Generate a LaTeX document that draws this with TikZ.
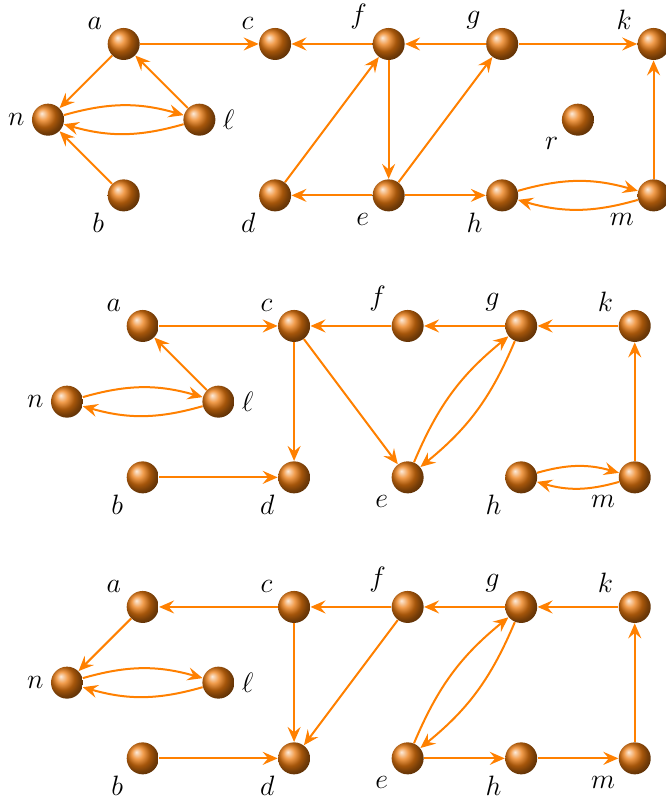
\RequirePackage{fix-cm}
\documentclass[tikz,border=0pt]{standalone}
\usepackage{tikz}
\usetikzlibrary{arrows.meta}
\definecolor{linkorange}{RGB}{255,128,0}
\definecolor{ballorange}{RGB}{235,122,15}
\tikzset{
    vertex/.style={circle, ball color=ballorange, minimum size=16pt, inner sep=0pt},
    link/.style={-{Stealth[length=7.5pt,width=6.5pt,inset=2.7pt]}, draw=linkorange, line width=1pt},
    every label/.style={font=\fontsize{14}{17}\selectfont},
    up/.style={label={[xshift=-1.5pt, yshift=-2pt]above left:$#1$}},
    down/.style={label={[xshift=-0.5pt, yshift=0.5pt]below left:$#1$}},
}

\begin{document}
\begin{tikzpicture}[x=1.33cm, y=-1.33cm]
    \useasboundingbox (-0.634,-0.581) rectangle (8.151,9.974);

    % First graph
    \node[vertex, up=a] (a1) at (1,0) {};
    \node[vertex, up=c] (c1) at (3,0) {};
    \node[vertex, up=f] (f1) at (4.5,0) {};
    \node[vertex, up=g] (g1) at (6,0) {};
    \node[vertex, up=k] (k1) at (8,0) {};
    \node[vertex, label=left:$n$] (n1) at (0,1) {};
    \node[vertex, label=right:$\ell$] (l1) at (2,1) {};
    \node[vertex, down=r] (r1) at (7,1) {};
    \node[vertex, down=b] (b1) at (1,2) {};
    \node[vertex, down=d] (d1) at (3,2) {};
    \node[vertex, down=e] (e1) at (4.5,2) {};
    \node[vertex, down=h] (h1) at (6,2) {};
    \node[vertex, down=m] (m1) at (8,2) {};

    \draw[link] (a1) -- (c1);
    \draw[link] (a1) -- (n1);
    \draw[link] (l1) -- (a1);
    \draw[link] (n1) to[bend left=16] (l1);
    \draw[link] (l1) to[bend left=16] (n1);
    \draw[link] (b1) -- (n1);
    \draw[link] (f1) -- (c1);
    \draw[link] (g1) -- (f1);
    \draw[link] (g1) -- (k1);
    \draw[link] (d1) -- (f1);
    \draw[link] (f1) -- (e1);
    \draw[link] (e1) -- (d1);
    \draw[link] (e1) -- (g1);
    \draw[link] (e1) -- (h1);
    \draw[link] (h1) to[bend left=16] (m1);
    \draw[link] (m1) to[bend left=16] (h1);
    \draw[link] (m1) -- (k1);

    % Second graph
    \begin{scope}[shift={(0.251,3.725)}]
        \node[vertex, up=a] (a2) at (1,0) {};
        \node[vertex, up=c] (c2) at (3,0) {};
        \node[vertex, up=f] (f2) at (4.5,0) {};
        \node[vertex, up=g] (g2) at (6,0) {};
        \node[vertex, up=k] (k2) at (7.5,0) {};
        \node[vertex, label=left:$n$] (n2) at (0,1) {};
        \node[vertex, label=right:$\ell$] (l2) at (2,1) {};
        \node[vertex, down=b] (b2) at (1,2) {};
        \node[vertex, down=d] (d2) at (3,2) {};
        \node[vertex, down=e] (e2) at (4.5,2) {};
        \node[vertex, down=h] (h2) at (6,2) {};
        \node[vertex, down=m] (m2) at (7.5,2) {};
    \end{scope}

    \draw[link] (a2) -- (c2);
    \draw[link] (l2) -- (a2);
    \draw[link] (n2) to[bend left=16] (l2);
    \draw[link] (l2) to[bend left=16] (n2);
    \draw[link] (b2) -- (d2);
    \draw[link] (c2) -- (d2);
    \draw[link] (c2) -- (e2);
    \draw[link] (f2) -- (c2);
    \draw[link] (g2) -- (f2);
    \draw[link] (k2) -- (g2);
    \draw[link] (e2) to[bend left=14] (g2);
    \draw[link] (g2) to[bend left=14] (e2);
    \draw[link] (h2) to[bend left=16] (m2);
    \draw[link] (m2) to[bend left=16] (h2);
    \draw[link] (m2) -- (k2);

    % Third graph
    \begin{scope}[shift={(0.251,7.437)}]
        \node[vertex, up=a] (a3) at (1,0) {};
        \node[vertex, up=c] (c3) at (3,0) {};
        \node[vertex, up=f] (f3) at (4.5,0) {};
        \node[vertex, up=g] (g3) at (6,0) {};
        \node[vertex, up=k] (k3) at (7.5,0) {};
        \node[vertex, label=left:$n$] (n3) at (0,1) {};
        \node[vertex, label=right:$\ell$] (l3) at (2,1) {};
        \node[vertex, down=b] (b3) at (1,2) {};
        \node[vertex, down=d] (d3) at (3,2) {};
        \node[vertex, down=e] (e3) at (4.5,2) {};
        \node[vertex, down=h] (h3) at (6,2) {};
        \node[vertex, down=m] (m3) at (7.5,2) {};
    \end{scope}

    \draw[link] (c3) -- (a3);
    \draw[link] (a3) -- (n3);
    \draw[link] (n3) to[bend left=16] (l3);
    \draw[link] (l3) to[bend left=16] (n3);
    \draw[link] (b3) -- (d3);
    \draw[link] (c3) -- (d3);
    \draw[link] (f3) -- (c3);
    \draw[link] (f3) -- (d3);
    \draw[link] (g3) -- (f3);
    \draw[link] (k3) -- (g3);
    \draw[link] (e3) to[bend left=14] (g3);
    \draw[link] (g3) to[bend left=14] (e3);
    \draw[link] (e3) -- (h3);
    \draw[link] (h3) -- (m3);
    \draw[link] (m3) -- (k3);
\end{tikzpicture}
\end{document}
